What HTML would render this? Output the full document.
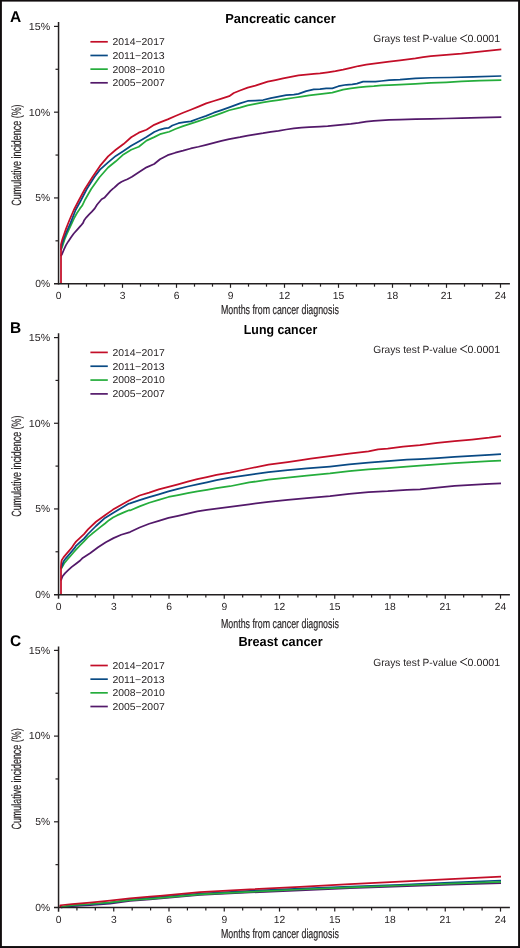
<!DOCTYPE html>
<html><head><meta charset="utf-8"><style>
html,body{margin:0;padding:0;background:#fff;}
svg{display:block;font-family:"Liberation Sans", sans-serif;will-change:transform;}
</style></head><body>
<svg text-rendering="geometricPrecision" width="520" height="948" viewBox="0 0 520 948" xmlns="http://www.w3.org/2000/svg">
<rect x="0" y="0" width="520" height="948" fill="#fff"/>
<path d="M60.95,256.2 L62.3,253.5 L64,249.3 L66,245.1 L68.3,241.4 L71.1,237.2 L73.8,233.5 L77.5,229.4 L80.8,225.7 L83.1,222.9 L84.2,220.2 L86.4,217.3 L88.9,214.7 L91.9,211.7 L94.8,208.4 L97,204.7 L101.6,199.3 L104.3,197.8 L107.4,194.4 L110.5,190.9 L113,188.6 L114.3,187.6 L116.6,185.5 L118.9,183.4 L121.6,181.7 L124.3,180.5 L127.4,179.2 L130.1,177.8 L132,176.7 L138.8,172.27 L146.5,167.35 L154.2,163.99 L160,159.22 L167.7,155.19 L175.4,152.71 L183.1,150.69 L190.8,148.47 L198.5,146.76 L206.2,144.81 L213.8,142.91 L221.5,140.91 L229.2,139.2 L240,137.22 L247.7,135.62 L255.4,134.34 L263.1,133.2 L270.8,131.87 L278.5,130.84 L286.2,129.5 L293.8,128.47 L301.5,127.65 L309.2,127.18 L320,126.71 L327.7,126.24 L335.4,125.47 L343.1,124.69 L350.8,123.91 L358.5,122.88 L366.2,121.55 L373.8,120.81 L381.5,120.28 L389.2,119.95 L400,119.6 L415.4,119.1 L430.8,118.8 L446.2,118.5 L461.5,118.1 L480,117.6 L501.3,117.2" fill="none" stroke="#53196a" stroke-width="1.75" stroke-linejoin="round" stroke-linecap="butt"/>
<path d="M60.95,250 L62.8,245.1 L64.6,239.5 L66.9,234 L69.2,228.9 L72,222.9 L74.5,217.5 L77,213 L80,208.4 L82.1,205.8 L83.8,202.4 L84.9,200 L91.2,189 L99.7,177 L100.4,176.26 L108.1,167.5 L115.8,161.28 L123.5,154.39 L131.2,149.76 L138.8,146.74 L146.5,140.63 L154.2,137.12 L160,134.19 L169.2,131.73 L175.4,129.04 L183.1,126.15 L190.8,123.66 L198.5,121.07 L206.2,118.5 L213.8,115.89 L221.5,113.08 L229.2,110.27 L240,107.66 L247.7,105.35 L255.4,103.86 L263.1,102.28 L270.8,101.1 L278.5,100.02 L286.2,98.83 L293.8,97.75 L301.5,96.54 L309.2,95.31 L320,94.12 L332.3,92.6 L343.1,89.62 L350.8,88.49 L358.5,87.38 L366.2,86.56 L373.8,86.15 L381.5,85.44 L389.2,85.02 L400,84.6 L415.4,83.8 L430.8,82.9 L446.2,82.3 L461.5,81.42 L480,80.72 L501.3,80.12" fill="none" stroke="#25ad3c" stroke-width="1.75" stroke-linejoin="round" stroke-linecap="butt"/>
<path d="M60.95,250 L61.5,246.5 L62.3,243.2 L64.2,237.7 L66,233.1 L68.3,228 L70.6,222.9 L75.6,210 L81.1,200 L86.8,189 L94.4,177 L100,169.6 L108.1,162.31 L115.8,155.9 L123.5,151.02 L131.2,145.84 L138.8,141.46 L146.5,137.09 L154.2,132.04 L160,129.56 L164.6,128.45 L168.5,127.98 L172.3,125.52 L178.5,123.23 L184.6,122.15 L190.8,121.37 L198.5,118.55 L206.2,115.91 L213.8,112.7 L221.5,110.08 L229.2,107.36 L240,103.4 L247.7,100.98 L255.4,100.52 L263.1,100.02 L270.8,98.12 L278.5,96.72 L286.2,95.23 L293.8,94.53 L298.5,93.89 L306.2,91.18 L313.8,89.43 L320,89.1 L326.2,88.27 L332.3,88.35 L338.5,86.22 L346.2,84.76 L352.3,84.39 L356.9,83.59 L363.1,81.59 L375.4,81.59 L381.5,81 L389.2,80.1 L400,79.7 L415.4,78.42 L430.8,77.75 L450,77.5 L473.1,76.9 L501.3,76" fill="none" stroke="#094a84" stroke-width="1.75" stroke-linejoin="round" stroke-linecap="butt"/>
<path d="M61,283.5 L61,244.5 L62.3,239.5 L64.2,234 L66,228.9 L67.8,224.3 L69.5,220 L73.8,210 L79,200 L84.9,189 L92.5,177 L100,165.9 L108.1,156.44 L115.8,149.78 L123.5,144.06 L131.2,137.24 L138.8,132.66 L146.5,129.78 L154.2,124.83 L160,122.41 L167.7,119.42 L175.4,115.96 L183.1,112.8 L190.8,109.73 L198.5,106.57 L206.2,103.39 L213.8,101.01 L221.5,98.64 L229.2,96.18 L233.8,92.95 L240,90.48 L247.7,87.66 L255.4,85.67 L260,84.13 L267.7,81.63 L275.4,80.03 L283.1,78.33 L290.8,76.93 L298.5,75.44 L306.2,74.64 L313.8,73.92 L320,73.4 L327.7,72.28 L335.4,71.06 L343.1,69.64 L350.8,67.91 L358.5,66.02 L366.2,64.72 L373.8,63.53 L381.5,62.63 L389.2,61.73 L400,60.4 L415.4,58.37 L423.1,57.1 L430.8,56.04 L446.2,54.81 L461.5,53.52 L480,51.52 L501.3,49.32" fill="none" stroke="#c30e28" stroke-width="1.75" stroke-linejoin="round" stroke-linecap="butt"/>
<text x="10" y="22.2" font-size="15.5" font-weight="bold" fill="#000">A</text>
<text x="280.5" y="22.8" font-size="13.2" font-weight="bold" fill="#000" text-anchor="middle" textLength="110.5" lengthAdjust="spacingAndGlyphs">Pancreatic cancer</text>
<line x1="58.55" y1="22" x2="58.55" y2="284.5" stroke="#231f20" stroke-width="1.5"/>
<text x="50.15" y="287.05" font-size="10.3" fill="#231f20" text-anchor="end">0%</text>
<line x1="55.5" y1="240.82" x2="58.55" y2="240.82" stroke="#231f20" stroke-width="1.2"/>
<line x1="54.0" y1="197.93" x2="58.55" y2="197.93" stroke="#231f20" stroke-width="1.2"/>
<text x="50.15" y="201.28" font-size="10.3" fill="#231f20" text-anchor="end">5%</text>
<line x1="55.5" y1="155.05" x2="58.55" y2="155.05" stroke="#231f20" stroke-width="1.2"/>
<line x1="54.0" y1="112.17" x2="58.55" y2="112.17" stroke="#231f20" stroke-width="1.2"/>
<text x="50.15" y="115.52" font-size="10.3" fill="#231f20" text-anchor="end" textLength="21.4" lengthAdjust="spacingAndGlyphs">10%</text>
<line x1="55.5" y1="69.28" x2="58.55" y2="69.28" stroke="#231f20" stroke-width="1.2"/>
<line x1="54.0" y1="26.4" x2="58.55" y2="26.4" stroke="#231f20" stroke-width="1.2"/>
<text x="50.15" y="29.75" font-size="10.3" fill="#231f20" text-anchor="end" textLength="21.4" lengthAdjust="spacingAndGlyphs">15%</text>
<line x1="54" y1="283.8" x2="509.9" y2="283.8" stroke="#231f20" stroke-width="1.5"/>
<line x1="68.5" y1="283.7" x2="68.5" y2="287.8" stroke="#231f20" stroke-width="1.2"/>
<text x="58.5" y="298.95" font-size="10.3" fill="#231f20" text-anchor="middle">0</text>
<line x1="86.5" y1="283.7" x2="86.5" y2="286.65" stroke="#231f20" stroke-width="1.2"/>
<line x1="104.5" y1="283.7" x2="104.5" y2="286.65" stroke="#231f20" stroke-width="1.2"/>
<line x1="122.5" y1="283.7" x2="122.5" y2="287.8" stroke="#231f20" stroke-width="1.2"/>
<text x="122.5" y="298.95" font-size="10.3" fill="#231f20" text-anchor="middle">3</text>
<line x1="140.5" y1="283.7" x2="140.5" y2="286.65" stroke="#231f20" stroke-width="1.2"/>
<line x1="158.5" y1="283.7" x2="158.5" y2="286.65" stroke="#231f20" stroke-width="1.2"/>
<line x1="176.5" y1="283.7" x2="176.5" y2="287.8" stroke="#231f20" stroke-width="1.2"/>
<text x="176.5" y="298.95" font-size="10.3" fill="#231f20" text-anchor="middle">6</text>
<line x1="194.5" y1="283.7" x2="194.5" y2="286.65" stroke="#231f20" stroke-width="1.2"/>
<line x1="212.5" y1="283.7" x2="212.5" y2="286.65" stroke="#231f20" stroke-width="1.2"/>
<line x1="230.5" y1="283.7" x2="230.5" y2="287.8" stroke="#231f20" stroke-width="1.2"/>
<text x="230.5" y="298.95" font-size="10.3" fill="#231f20" text-anchor="middle">9</text>
<line x1="248.5" y1="283.7" x2="248.5" y2="286.65" stroke="#231f20" stroke-width="1.2"/>
<line x1="266.5" y1="283.7" x2="266.5" y2="286.65" stroke="#231f20" stroke-width="1.2"/>
<line x1="284.5" y1="283.7" x2="284.5" y2="287.8" stroke="#231f20" stroke-width="1.2"/>
<text x="284.5" y="298.95" font-size="10.3" fill="#231f20" text-anchor="middle">12</text>
<line x1="302.5" y1="283.7" x2="302.5" y2="286.65" stroke="#231f20" stroke-width="1.2"/>
<line x1="320.5" y1="283.7" x2="320.5" y2="286.65" stroke="#231f20" stroke-width="1.2"/>
<line x1="338.5" y1="283.7" x2="338.5" y2="287.8" stroke="#231f20" stroke-width="1.2"/>
<text x="338.5" y="298.95" font-size="10.3" fill="#231f20" text-anchor="middle">15</text>
<line x1="356.5" y1="283.7" x2="356.5" y2="286.65" stroke="#231f20" stroke-width="1.2"/>
<line x1="374.5" y1="283.7" x2="374.5" y2="286.65" stroke="#231f20" stroke-width="1.2"/>
<line x1="392.5" y1="283.7" x2="392.5" y2="287.8" stroke="#231f20" stroke-width="1.2"/>
<text x="392.5" y="298.95" font-size="10.3" fill="#231f20" text-anchor="middle">18</text>
<line x1="410.5" y1="283.7" x2="410.5" y2="286.65" stroke="#231f20" stroke-width="1.2"/>
<line x1="428.5" y1="283.7" x2="428.5" y2="286.65" stroke="#231f20" stroke-width="1.2"/>
<line x1="446.5" y1="283.7" x2="446.5" y2="287.8" stroke="#231f20" stroke-width="1.2"/>
<text x="446.5" y="298.95" font-size="10.3" fill="#231f20" text-anchor="middle">21</text>
<line x1="464.5" y1="283.7" x2="464.5" y2="286.65" stroke="#231f20" stroke-width="1.2"/>
<line x1="482.5" y1="283.7" x2="482.5" y2="286.65" stroke="#231f20" stroke-width="1.2"/>
<line x1="500.5" y1="283.7" x2="500.5" y2="287.8" stroke="#231f20" stroke-width="1.2"/>
<text x="500.5" y="298.95" font-size="10.3" fill="#231f20" text-anchor="middle">24</text>
<text x="221" y="314.3" font-size="13.0" fill="#231f20" stroke="#231f20" stroke-width="0.18" textLength="117.8" lengthAdjust="spacingAndGlyphs">Months from cancer diagnosis</text>
<text transform="translate(21,155.05) rotate(-90)" x="0" y="0" font-size="13.4" fill="#231f20" stroke="#231f20" stroke-width="0.18" text-anchor="middle" textLength="101.2" lengthAdjust="spacingAndGlyphs">Cumulative incidence (%)</text>
<line x1="90.4" y1="41.8" x2="107.8" y2="41.8" stroke="#c30e28" stroke-width="1.7"/>
<text x="112.4" y="45.2" font-size="9.9" fill="#231f20" textLength="52.3" lengthAdjust="spacingAndGlyphs">2014−2017</text>
<line x1="90.4" y1="55.47" x2="107.8" y2="55.47" stroke="#094a84" stroke-width="1.7"/>
<text x="112.4" y="58.87" font-size="9.9" fill="#231f20" textLength="52.3" lengthAdjust="spacingAndGlyphs">2011−2013</text>
<line x1="90.4" y1="69.14" x2="107.8" y2="69.14" stroke="#25ad3c" stroke-width="1.7"/>
<text x="112.4" y="72.54" font-size="9.9" fill="#231f20" textLength="52.3" lengthAdjust="spacingAndGlyphs">2008−2010</text>
<line x1="90.4" y1="82.81" x2="107.8" y2="82.81" stroke="#53196a" stroke-width="1.7"/>
<text x="112.4" y="86.21" font-size="9.9" fill="#231f20" textLength="52.3" lengthAdjust="spacingAndGlyphs">2005−2007</text>
<text x="373.2" y="42.1" font-size="10.4" fill="#231f20" textLength="84" lengthAdjust="spacingAndGlyphs">Grays test P-value</text>
<path d="M467.2,34.7 L460.3,38.35 L467.2,42" fill="none" stroke="#231f20" stroke-width="0.95" stroke-linejoin="miter"/>
<text x="467.6" y="42.1" font-size="10.4" fill="#231f20" textLength="32.6" lengthAdjust="spacingAndGlyphs">0.0001</text>
<path d="M60.95,580.5 L61.5,578.9 L62.6,576.2 L64.9,573.4 L68.2,570.2 L71.8,566.9 L76,563.7 L80.2,560.5 L82.7,557.9 L90.4,553 L98.1,547.31 L105.8,542.22 L113.5,538.13 L121.2,534.74 L130,532.08 L139.6,527.46 L149.2,523.73 L158.8,520.79 L168.5,517.83 L178.1,515.79 L187.7,513.58 L197.3,511.38 L206.9,509.81 L216.5,508.59 L230,506.99 L249.2,504.33 L268.5,501.79 L287.7,499.87 L306.9,498.12 L330,496.08 L349.2,493.89 L368.5,492.07 L387.7,491.17 L406.9,489.81 L420,489.34 L437.3,487.71 L454.6,485.83 L471.9,484.87 L489.2,483.9 L501,483.37" fill="none" stroke="#53196a" stroke-width="1.75" stroke-linejoin="round" stroke-linecap="butt"/>
<path d="M60.95,569 L61.8,567.8 L62.6,566.2 L64.5,562.9 L67.2,559.7 L70.5,556 L73.7,552.3 L76,549.6 L80,545.4 L84,541.3 L88,537.2 L92,533.8 L96,530.6 L100,527.4 L105,523.5 L109,520.2 L113,517.5 L117,515.4 L121,513.6 L125,511.9 L129,510.2 L130,510.46 L139.6,506.39 L149.2,502.73 L158.8,499.86 L168.5,496.97 L178.1,495.11 L187.7,493.18 L197.3,491.35 L206.9,489.77 L216.5,488.16 L230,486.24 L249.2,482.46 L268.5,479.73 L287.7,477.74 L306.9,475.74 L330,473.48 L349.2,471.09 L368.5,469.45 L387.7,468.14 L406.9,466.72 L420,465.65 L437.3,464.45 L454.6,463.15 L471.9,462.04 L489.2,461.23 L501,460.67" fill="none" stroke="#25ad3c" stroke-width="1.75" stroke-linejoin="round" stroke-linecap="butt"/>
<path d="M60.95,568 L61.5,567 L62.2,565.7 L63.5,561.5 L65.8,558.3 L68.6,555.1 L71.8,551.4 L75.1,547.4 L76,545.8 L80,542.1 L84,538.6 L88,534 L96,526 L105,517.9 L113,512.9 L121,508.2 L129,503.6 L130,503.37 L139.6,500.08 L149.2,497.08 L158.8,494.34 L168.5,491.35 L178.1,488.85 L187.7,486.51 L197.3,484.38 L206.9,482.32 L216.5,480.1 L230,477.71 L249.2,474.93 L268.5,472.03 L287.7,470.24 L306.9,468.44 L330,466.51 L349.2,464.48 L368.5,462.62 L387.7,461.17 L406.9,459.72 L420,459.17 L437.3,458.08 L454.6,456.9 L471.9,455.89 L489.2,454.98 L501,454.22" fill="none" stroke="#094a84" stroke-width="1.75" stroke-linejoin="round" stroke-linecap="butt"/>
<path d="M61,594.5 L61,566 L61.3,562.5 L61.7,560.2 L63.5,557.4 L65.8,554.6 L68.6,551.4 L71.4,548.2 L74.2,544 L76,541.6 L80,537.8 L84,534.1 L88,529.4 L96,521.75 L105,515.2 L113,509.6 L121,504.9 L129,500.6 L130,500.04 L139.6,495.48 L149.2,492.63 L158.8,489.41 L168.5,486.84 L178.1,484.3 L187.7,481.61 L197.3,479.13 L206.9,477.07 L216.5,474.84 L230,472.53 L249.2,468.5 L268.5,464.7 L287.7,462.03 L301.2,460.11 L310.8,458.55 L330,456.03 L349.2,453.7 L368.5,451.4 L378.1,449.41 L387.7,448.51 L403.1,446.59 L420,445.17 L437.3,442.84 L454.6,441.02 L471.9,439.53 L489.2,437.74 L501,436.09" fill="none" stroke="#c30e28" stroke-width="1.75" stroke-linejoin="round" stroke-linecap="butt"/>
<text x="10" y="333" font-size="15.5" font-weight="bold" fill="#000">B</text>
<text x="280.5" y="333.8" font-size="13.2" font-weight="bold" fill="#000" text-anchor="middle" textLength="73.4" lengthAdjust="spacingAndGlyphs">Lung cancer</text>
<line x1="58.55" y1="333.2" x2="58.55" y2="598.8" stroke="#231f20" stroke-width="1.5"/>
<text x="50.15" y="597.95" font-size="10.3" fill="#231f20" text-anchor="end">0%</text>
<line x1="55.5" y1="551.77" x2="58.55" y2="551.77" stroke="#231f20" stroke-width="1.2"/>
<line x1="54.0" y1="508.93" x2="58.55" y2="508.93" stroke="#231f20" stroke-width="1.2"/>
<text x="50.15" y="512.28" font-size="10.3" fill="#231f20" text-anchor="end">5%</text>
<line x1="55.5" y1="466.1" x2="58.55" y2="466.1" stroke="#231f20" stroke-width="1.2"/>
<line x1="54.0" y1="423.27" x2="58.55" y2="423.27" stroke="#231f20" stroke-width="1.2"/>
<text x="50.15" y="426.62" font-size="10.3" fill="#231f20" text-anchor="end" textLength="21.4" lengthAdjust="spacingAndGlyphs">10%</text>
<line x1="55.5" y1="380.43" x2="58.55" y2="380.43" stroke="#231f20" stroke-width="1.2"/>
<line x1="54.0" y1="337.6" x2="58.55" y2="337.6" stroke="#231f20" stroke-width="1.2"/>
<text x="50.15" y="340.95" font-size="10.3" fill="#231f20" text-anchor="end" textLength="21.4" lengthAdjust="spacingAndGlyphs">15%</text>
<line x1="54" y1="594.7" x2="509.9" y2="594.7" stroke="#231f20" stroke-width="1.5"/>
<text x="58.5" y="609.85" font-size="10.3" fill="#231f20" text-anchor="middle">0</text>
<line x1="76.92" y1="594.6" x2="76.92" y2="597.55" stroke="#231f20" stroke-width="1.2"/>
<line x1="95.33" y1="594.6" x2="95.33" y2="597.55" stroke="#231f20" stroke-width="1.2"/>
<line x1="113.75" y1="594.6" x2="113.75" y2="598.7" stroke="#231f20" stroke-width="1.2"/>
<text x="113.75" y="609.85" font-size="10.3" fill="#231f20" text-anchor="middle">3</text>
<line x1="132.17" y1="594.6" x2="132.17" y2="597.55" stroke="#231f20" stroke-width="1.2"/>
<line x1="150.59" y1="594.6" x2="150.59" y2="597.55" stroke="#231f20" stroke-width="1.2"/>
<line x1="169" y1="594.6" x2="169" y2="598.7" stroke="#231f20" stroke-width="1.2"/>
<text x="169" y="609.85" font-size="10.3" fill="#231f20" text-anchor="middle">6</text>
<line x1="187.42" y1="594.6" x2="187.42" y2="597.55" stroke="#231f20" stroke-width="1.2"/>
<line x1="205.84" y1="594.6" x2="205.84" y2="597.55" stroke="#231f20" stroke-width="1.2"/>
<line x1="224.25" y1="594.6" x2="224.25" y2="598.7" stroke="#231f20" stroke-width="1.2"/>
<text x="224.25" y="609.85" font-size="10.3" fill="#231f20" text-anchor="middle">9</text>
<line x1="242.67" y1="594.6" x2="242.67" y2="597.55" stroke="#231f20" stroke-width="1.2"/>
<line x1="261.09" y1="594.6" x2="261.09" y2="597.55" stroke="#231f20" stroke-width="1.2"/>
<line x1="279.5" y1="594.6" x2="279.5" y2="598.7" stroke="#231f20" stroke-width="1.2"/>
<text x="279.5" y="609.85" font-size="10.3" fill="#231f20" text-anchor="middle">12</text>
<line x1="297.92" y1="594.6" x2="297.92" y2="597.55" stroke="#231f20" stroke-width="1.2"/>
<line x1="316.34" y1="594.6" x2="316.34" y2="597.55" stroke="#231f20" stroke-width="1.2"/>
<line x1="334.75" y1="594.6" x2="334.75" y2="598.7" stroke="#231f20" stroke-width="1.2"/>
<text x="334.75" y="609.85" font-size="10.3" fill="#231f20" text-anchor="middle">15</text>
<line x1="353.17" y1="594.6" x2="353.17" y2="597.55" stroke="#231f20" stroke-width="1.2"/>
<line x1="371.59" y1="594.6" x2="371.59" y2="597.55" stroke="#231f20" stroke-width="1.2"/>
<line x1="390.01" y1="594.6" x2="390.01" y2="598.7" stroke="#231f20" stroke-width="1.2"/>
<text x="390.01" y="609.85" font-size="10.3" fill="#231f20" text-anchor="middle">18</text>
<line x1="408.42" y1="594.6" x2="408.42" y2="597.55" stroke="#231f20" stroke-width="1.2"/>
<line x1="426.84" y1="594.6" x2="426.84" y2="597.55" stroke="#231f20" stroke-width="1.2"/>
<line x1="445.26" y1="594.6" x2="445.26" y2="598.7" stroke="#231f20" stroke-width="1.2"/>
<text x="445.26" y="609.85" font-size="10.3" fill="#231f20" text-anchor="middle">21</text>
<line x1="463.67" y1="594.6" x2="463.67" y2="597.55" stroke="#231f20" stroke-width="1.2"/>
<line x1="482.09" y1="594.6" x2="482.09" y2="597.55" stroke="#231f20" stroke-width="1.2"/>
<line x1="500.51" y1="594.6" x2="500.51" y2="598.7" stroke="#231f20" stroke-width="1.2"/>
<text x="500.51" y="609.85" font-size="10.3" fill="#231f20" text-anchor="middle">24</text>
<text x="221" y="627.5" font-size="13.0" fill="#231f20" stroke="#231f20" stroke-width="0.18" textLength="117.8" lengthAdjust="spacingAndGlyphs">Months from cancer diagnosis</text>
<text transform="translate(21,466.1) rotate(-90)" x="0" y="0" font-size="13.4" fill="#231f20" stroke="#231f20" stroke-width="0.18" text-anchor="middle" textLength="101.2" lengthAdjust="spacingAndGlyphs">Cumulative incidence (%)</text>
<line x1="90.4" y1="352.4" x2="107.8" y2="352.4" stroke="#c30e28" stroke-width="1.7"/>
<text x="112.4" y="355.8" font-size="9.9" fill="#231f20" textLength="52.3" lengthAdjust="spacingAndGlyphs">2014−2017</text>
<line x1="90.4" y1="366.23" x2="107.8" y2="366.23" stroke="#094a84" stroke-width="1.7"/>
<text x="112.4" y="369.63" font-size="9.9" fill="#231f20" textLength="52.3" lengthAdjust="spacingAndGlyphs">2011−2013</text>
<line x1="90.4" y1="380.06" x2="107.8" y2="380.06" stroke="#25ad3c" stroke-width="1.7"/>
<text x="112.4" y="383.46" font-size="9.9" fill="#231f20" textLength="52.3" lengthAdjust="spacingAndGlyphs">2008−2010</text>
<line x1="90.4" y1="393.89" x2="107.8" y2="393.89" stroke="#53196a" stroke-width="1.7"/>
<text x="112.4" y="397.29" font-size="9.9" fill="#231f20" textLength="52.3" lengthAdjust="spacingAndGlyphs">2005−2007</text>
<text x="373.2" y="352.7" font-size="10.4" fill="#231f20" textLength="84" lengthAdjust="spacingAndGlyphs">Grays test P-value</text>
<path d="M467.2,345.3 L460.3,348.95 L467.2,352.6" fill="none" stroke="#231f20" stroke-width="0.95" stroke-linejoin="miter"/>
<text x="467.6" y="352.7" font-size="10.4" fill="#231f20" textLength="32.6" lengthAdjust="spacingAndGlyphs">0.0001</text>
<path d="M61,907.5 L72,906.2 L90,905.2 L110,903.6 L130,900.9 L150,899.5 L200,894.9 L250,892.5 L300,890.3 L350,888.2 L400,886.3 L450,884.7 L501,883.2" fill="none" stroke="#53196a" stroke-width="1.75" stroke-linejoin="round" stroke-linecap="butt"/>
<path d="M61,907.5 L72,905.6 L90,904.5 L110,902.8 L130,899.6 L150,897.9 L200,893.5 L250,890.9 L300,888.6 L350,886.6 L400,884.9 L450,882.7 L501,880.5" fill="none" stroke="#094a84" stroke-width="1.75" stroke-linejoin="round" stroke-linecap="butt"/>
<path d="M61,907.3 L62,906.7 L72,905.1 L90,904 L110,902.3 L130,900.1 L150,898.8 L200,894.3 L250,891.9 L300,889.5 L350,887.4 L400,885.5 L450,883.7 L501,881.9" fill="none" stroke="#25ad3c" stroke-width="1.75" stroke-linejoin="round" stroke-linecap="butt"/>
<path d="M60.3,907.5 L60.3,905.3 L63,905 L72,904.2 L90,902.65 L100,901.7 L110,900.6 L130,898.3 L150,896.7 L160,895.9 L200,892.1 L250,889.3 L300,886.9 L350,884.2 L400,881.6 L450,879.1 L501,876.6" fill="none" stroke="#c30e28" stroke-width="1.75" stroke-linejoin="round" stroke-linecap="butt"/>
<text x="10" y="646.2" font-size="15.5" font-weight="bold" fill="#000">C</text>
<text x="280.5" y="646.3" font-size="13.2" font-weight="bold" fill="#000" text-anchor="middle" textLength="84.2" lengthAdjust="spacingAndGlyphs">Breast cancer</text>
<line x1="58.55" y1="646.5" x2="58.55" y2="911.7" stroke="#231f20" stroke-width="1.5"/>
<text x="50.15" y="910.85" font-size="10.3" fill="#231f20" text-anchor="end">0%</text>
<line x1="55.5" y1="864.65" x2="58.55" y2="864.65" stroke="#231f20" stroke-width="1.2"/>
<line x1="54.0" y1="821.8" x2="58.55" y2="821.8" stroke="#231f20" stroke-width="1.2"/>
<text x="50.15" y="825.15" font-size="10.3" fill="#231f20" text-anchor="end">5%</text>
<line x1="55.5" y1="778.95" x2="58.55" y2="778.95" stroke="#231f20" stroke-width="1.2"/>
<line x1="54.0" y1="736.1" x2="58.55" y2="736.1" stroke="#231f20" stroke-width="1.2"/>
<text x="50.15" y="739.45" font-size="10.3" fill="#231f20" text-anchor="end" textLength="21.4" lengthAdjust="spacingAndGlyphs">10%</text>
<line x1="55.5" y1="693.25" x2="58.55" y2="693.25" stroke="#231f20" stroke-width="1.2"/>
<line x1="54.0" y1="650.4" x2="58.55" y2="650.4" stroke="#231f20" stroke-width="1.2"/>
<text x="50.15" y="653.75" font-size="10.3" fill="#231f20" text-anchor="end" textLength="21.4" lengthAdjust="spacingAndGlyphs">15%</text>
<line x1="54" y1="907.6" x2="509.9" y2="907.6" stroke="#231f20" stroke-width="1.5"/>
<text x="58.5" y="922.75" font-size="10.3" fill="#231f20" text-anchor="middle">0</text>
<line x1="76.92" y1="907.5" x2="76.92" y2="910.45" stroke="#231f20" stroke-width="1.2"/>
<line x1="95.33" y1="907.5" x2="95.33" y2="910.45" stroke="#231f20" stroke-width="1.2"/>
<line x1="113.75" y1="907.5" x2="113.75" y2="911.6" stroke="#231f20" stroke-width="1.2"/>
<text x="113.75" y="922.75" font-size="10.3" fill="#231f20" text-anchor="middle">3</text>
<line x1="132.17" y1="907.5" x2="132.17" y2="910.45" stroke="#231f20" stroke-width="1.2"/>
<line x1="150.59" y1="907.5" x2="150.59" y2="910.45" stroke="#231f20" stroke-width="1.2"/>
<line x1="169" y1="907.5" x2="169" y2="911.6" stroke="#231f20" stroke-width="1.2"/>
<text x="169" y="922.75" font-size="10.3" fill="#231f20" text-anchor="middle">6</text>
<line x1="187.42" y1="907.5" x2="187.42" y2="910.45" stroke="#231f20" stroke-width="1.2"/>
<line x1="205.84" y1="907.5" x2="205.84" y2="910.45" stroke="#231f20" stroke-width="1.2"/>
<line x1="224.25" y1="907.5" x2="224.25" y2="911.6" stroke="#231f20" stroke-width="1.2"/>
<text x="224.25" y="922.75" font-size="10.3" fill="#231f20" text-anchor="middle">9</text>
<line x1="242.67" y1="907.5" x2="242.67" y2="910.45" stroke="#231f20" stroke-width="1.2"/>
<line x1="261.09" y1="907.5" x2="261.09" y2="910.45" stroke="#231f20" stroke-width="1.2"/>
<line x1="279.5" y1="907.5" x2="279.5" y2="911.6" stroke="#231f20" stroke-width="1.2"/>
<text x="279.5" y="922.75" font-size="10.3" fill="#231f20" text-anchor="middle">12</text>
<line x1="297.92" y1="907.5" x2="297.92" y2="910.45" stroke="#231f20" stroke-width="1.2"/>
<line x1="316.34" y1="907.5" x2="316.34" y2="910.45" stroke="#231f20" stroke-width="1.2"/>
<line x1="334.75" y1="907.5" x2="334.75" y2="911.6" stroke="#231f20" stroke-width="1.2"/>
<text x="334.75" y="922.75" font-size="10.3" fill="#231f20" text-anchor="middle">15</text>
<line x1="353.17" y1="907.5" x2="353.17" y2="910.45" stroke="#231f20" stroke-width="1.2"/>
<line x1="371.59" y1="907.5" x2="371.59" y2="910.45" stroke="#231f20" stroke-width="1.2"/>
<line x1="390.01" y1="907.5" x2="390.01" y2="911.6" stroke="#231f20" stroke-width="1.2"/>
<text x="390.01" y="922.75" font-size="10.3" fill="#231f20" text-anchor="middle">18</text>
<line x1="408.42" y1="907.5" x2="408.42" y2="910.45" stroke="#231f20" stroke-width="1.2"/>
<line x1="426.84" y1="907.5" x2="426.84" y2="910.45" stroke="#231f20" stroke-width="1.2"/>
<line x1="445.26" y1="907.5" x2="445.26" y2="911.6" stroke="#231f20" stroke-width="1.2"/>
<text x="445.26" y="922.75" font-size="10.3" fill="#231f20" text-anchor="middle">21</text>
<line x1="463.67" y1="907.5" x2="463.67" y2="910.45" stroke="#231f20" stroke-width="1.2"/>
<line x1="482.09" y1="907.5" x2="482.09" y2="910.45" stroke="#231f20" stroke-width="1.2"/>
<line x1="500.51" y1="907.5" x2="500.51" y2="911.6" stroke="#231f20" stroke-width="1.2"/>
<text x="500.51" y="922.75" font-size="10.3" fill="#231f20" text-anchor="middle">24</text>
<text x="221" y="938.1" font-size="13.0" fill="#231f20" stroke="#231f20" stroke-width="0.18" textLength="117.8" lengthAdjust="spacingAndGlyphs">Months from cancer diagnosis</text>
<text transform="translate(21,778.95) rotate(-90)" x="0" y="0" font-size="13.4" fill="#231f20" stroke="#231f20" stroke-width="0.18" text-anchor="middle" textLength="101.2" lengthAdjust="spacingAndGlyphs">Cumulative incidence (%)</text>
<line x1="90.4" y1="665.5" x2="107.8" y2="665.5" stroke="#c30e28" stroke-width="1.7"/>
<text x="112.4" y="668.9" font-size="9.9" fill="#231f20" textLength="52.3" lengthAdjust="spacingAndGlyphs">2014−2017</text>
<line x1="90.4" y1="679.17" x2="107.8" y2="679.17" stroke="#094a84" stroke-width="1.7"/>
<text x="112.4" y="682.57" font-size="9.9" fill="#231f20" textLength="52.3" lengthAdjust="spacingAndGlyphs">2011−2013</text>
<line x1="90.4" y1="692.84" x2="107.8" y2="692.84" stroke="#25ad3c" stroke-width="1.7"/>
<text x="112.4" y="696.24" font-size="9.9" fill="#231f20" textLength="52.3" lengthAdjust="spacingAndGlyphs">2008−2010</text>
<line x1="90.4" y1="706.51" x2="107.8" y2="706.51" stroke="#53196a" stroke-width="1.7"/>
<text x="112.4" y="709.91" font-size="9.9" fill="#231f20" textLength="52.3" lengthAdjust="spacingAndGlyphs">2005−2007</text>
<text x="373.2" y="665.6" font-size="10.4" fill="#231f20" textLength="84" lengthAdjust="spacingAndGlyphs">Grays test P-value</text>
<path d="M467.2,658.2 L460.3,661.85 L467.2,665.5" fill="none" stroke="#231f20" stroke-width="0.95" stroke-linejoin="miter"/>
<text x="467.6" y="665.6" font-size="10.4" fill="#231f20" textLength="32.6" lengthAdjust="spacingAndGlyphs">0.0001</text>
<rect x="0" y="0" width="520" height="1.6" fill="#110d0e"/>
<rect x="0" y="946.05" width="520" height="1.95" fill="#110d0e"/>
<rect x="0" y="0" width="1.9" height="948" fill="#110d0e"/>
<rect x="518.1" y="0" width="1.9" height="948" fill="#110d0e"/>
</svg>
</body></html>
